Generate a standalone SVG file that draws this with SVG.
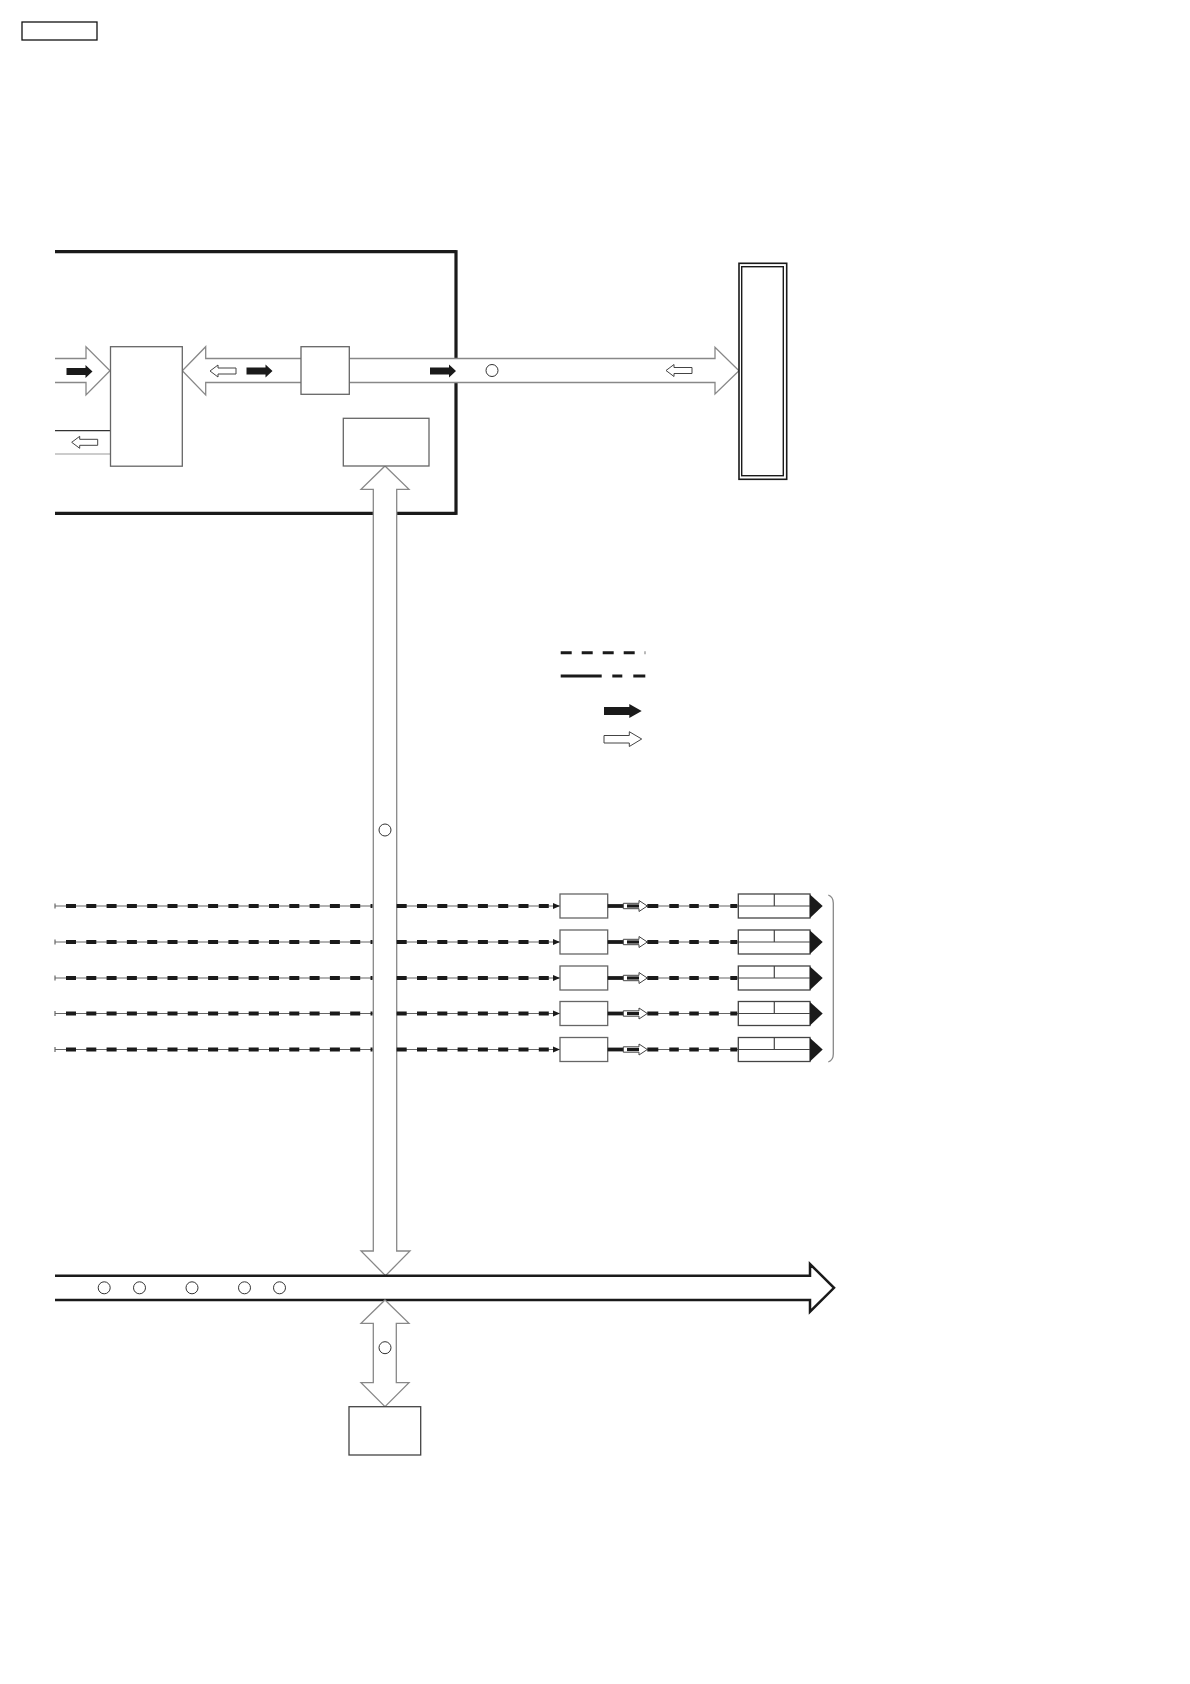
<svg xmlns="http://www.w3.org/2000/svg" width="1190" height="1684" viewBox="0 0 1190 1684">
<style>
.sh{fill:#fff;stroke:#888;stroke-width:1.3}
.bx{fill:#fff;stroke:#666;stroke-width:1.3}
.thin{stroke:#666;stroke-width:1.2;fill:none}
.dash{stroke:#1a1a1a;stroke-width:3.8;stroke-dasharray:10 10.3;fill:none}
.blk{fill:#1a1a1a;stroke:none}
.wa{fill:#fff;stroke:#444;stroke-width:1}
</style>
<defs>
<path id="blkArrow" d="M0,-3.5 H19 V-6.5 L26,0 L19,6.5 V3.5 H0 Z"/>
<path id="whArrowL" d="M26,-3 H8 V-6 L0,0 L8,6 V3 H26 Z"/>
<g id="row">
<line class="thin" x1="55" y1="0" x2="372.5" y2="0"/>
<line class="thin" x1="55" y1="-2.5" x2="55" y2="2.5"/>
<line class="dash" x1="66" y1="0" x2="372.5" y2="0"/>
<line class="thin" x1="396.7" y1="0" x2="560" y2="0"/>
<line class="dash" x1="396.7" y1="0" x2="552" y2="0"/>
<path class="blk" d="M553,-3 L560,0 L553,3 Z"/>
<rect class="bx" x="560" y="-12" width="47.7" height="24"/>
<line stroke="#1a1a1a" stroke-width="3.8" x1="607.7" y1="0" x2="624" y2="0"/>
<path class="wa" d="M623.3,-2.7 H639 V-5.5 L647.3,0 L639,5.5 V2.7 H623.3 Z"/>
<rect class="blk" x="627" y="-1.6" width="12" height="3.2"/>
<line class="thin" x1="647.3" y1="0" x2="738.3" y2="0"/>
<line stroke="#1a1a1a" stroke-width="3.8" stroke-dasharray="11 11 9.5 10.5 9.5 10.5 9.5 11.5 7 20" x1="647.3" y1="0" x2="738" y2="0"/>
<rect fill="#fff" stroke="#444" stroke-width="1.3" x="738.3" y="-12" width="71.7" height="24"/>
<line stroke="#444" stroke-width="1.2" x1="738.3" y1="0" x2="810" y2="0"/>
<line stroke="#444" stroke-width="1.2" x1="774.3" y1="-12" x2="774.3" y2="0"/>
<path class="blk" d="M810,-11.5 L822.7,0 L810,12 Z"/>
</g>
</defs>

<g id="title-box"><rect x="22" y="22" width="75" height="18" fill="#fff" stroke="#111" stroke-width="1.3"/></g>

<g id="frame" fill="none" stroke="#1a1a1a" stroke-width="3.2">
<line x1="55" y1="251.7" x2="456" y2="251.7"/>
<line x1="456" y1="250.1" x2="456" y2="358.5"/>
<line x1="456" y1="382.5" x2="456" y2="514.9"/>
<line x1="55" y1="513.3" x2="373" y2="513.3"/>
<line x1="397" y1="513.3" x2="456" y2="513.3"/>
</g>

<g id="connectors">
<path class="sh" d="M55,358.5 H86 V346.7 L110,370.7 L86,395 V382.5 H55"/>
<line x1="55" y1="430.7" x2="110" y2="430.7" stroke="#333" stroke-width="1.2"/>
<line x1="55" y1="454" x2="110" y2="454" stroke="#999" stroke-width="1.2"/>
<path class="sh" d="M301,358.5 H205.7 V346.7 L182.3,370.7 L205.7,395 V382.5 H301"/>
<path class="sh" d="M349.3,358.5 H715 V347.3 L739,370.7 L715,394 V382.5 H349.3"/>
<path class="sh" d="M385,466 L409,489.3 H396.7 V1251 H410 L385.5,1275.7 L361,1251 H373.3 V489.3 H361 Z"/>
<path d="M55,1275.7 H810 V1264 L834,1287.8 L810,1311.7 V1300 H55" fill="#fff" stroke="#1a1a1a" stroke-width="2.5"/>
<path class="sh" d="M385,1300 L409,1323.3 H396.3 V1382.7 H409 L385,1406.7 L361,1382.7 H373.3 V1323.3 H361 Z"/>
<use href="#row" y="906"/>
<use href="#row" y="942"/>
<use href="#row" y="978"/>
<use href="#row" y="1013.5"/>
<use href="#row" y="1049.5"/>
<path d="M828.3,895 Q833.3,897 833.3,903 V1054 Q833.3,1060 828.3,1062" fill="none" stroke="#888" stroke-width="1.3"/>
</g>

<g id="flow-markers">
<use href="#blkArrow" x="66.5" y="371.5" class="blk"/>
<use href="#blkArrow" x="246.5" y="371" class="blk"/>
<use href="#blkArrow" x="430" y="371" class="blk"/>
<use href="#whArrowL" x="210" y="371" class="wa"/>
<use href="#whArrowL" x="71.7" y="442.3" class="wa"/>
<use href="#whArrowL" x="666" y="370.5" class="wa"/>
<circle cx="492" cy="370.5" r="6" fill="#fff" stroke="#333" stroke-width="1"/>
<circle cx="385" cy="830" r="6" fill="#fff" stroke="#333" stroke-width="1"/>
<circle cx="104.2" cy="1287.8" r="6" fill="#fff" stroke="#333" stroke-width="1"/>
<circle cx="139.5" cy="1287.8" r="6" fill="#fff" stroke="#333" stroke-width="1"/>
<circle cx="192" cy="1287.8" r="6" fill="#fff" stroke="#333" stroke-width="1"/>
<circle cx="244.5" cy="1287.8" r="6" fill="#fff" stroke="#333" stroke-width="1"/>
<circle cx="279.5" cy="1287.8" r="6" fill="#fff" stroke="#333" stroke-width="1"/>
<circle cx="385" cy="1347.7" r="6" fill="#fff" stroke="#333" stroke-width="1"/>
</g>

<g id="block-main"><rect class="bx" x="110.5" y="346.7" width="71.8" height="119.5"/></g>
<g id="block-small"><rect class="bx" x="301" y="346.7" width="48.3" height="47.6"/></g>
<g id="block-lower"><rect class="bx" x="343.3" y="418.3" width="85.7" height="47.7"/></g>
<g id="panel">
<rect x="739" y="263.3" width="47.7" height="216" fill="#fff" stroke="#1a1a1a" stroke-width="1.6"/>
<rect x="741.7" y="266.7" width="41.6" height="209" fill="none" stroke="#1a1a1a" stroke-width="1.4"/>
</g>
<g id="bottom-box"><rect x="349" y="1406.7" width="71.7" height="48.3" fill="#fff" stroke="#444" stroke-width="1.3"/></g>

<g id="legend">
<line x1="560.7" y1="652.7" x2="645.3" y2="652.7" stroke="#1a1a1a" stroke-width="3" stroke-dasharray="11 10"/>
<line x1="560.7" y1="676" x2="601.7" y2="676" stroke="#1a1a1a" stroke-width="3"/>
<line x1="612.3" y1="676" x2="622.3" y2="676" stroke="#1a1a1a" stroke-width="3"/>
<line x1="633.3" y1="676" x2="645.3" y2="676" stroke="#1a1a1a" stroke-width="3"/>
<path class="blk" d="M604,707 H629.3 V704 L641.7,711 L629.3,718 V715 H604 Z"/>
<path class="wa" d="M604,735.5 H629.3 V731.7 L641.7,739 L629.3,746.5 V743 H604 Z"/>
</g>
</svg>
